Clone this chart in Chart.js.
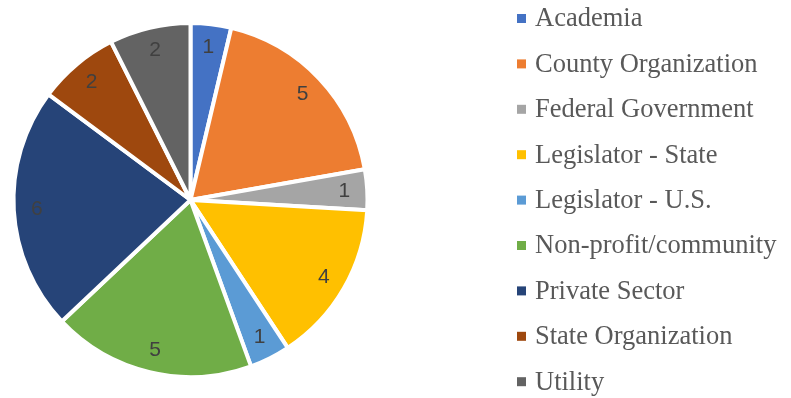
<!DOCTYPE html>
<html>
<head>
<meta charset="utf-8">
<script src="https://cdn.jsdelivr.net/npm/chart.js@4.4.1/dist/chart.umd.min.js"></script>
<style>
  html, body { margin: 0; padding: 0; background: #fff; }
  #wrap { width: 791px; height: 398px; }
</style>
</head>
<body>
<div id="wrap"><canvas id="sectores"></canvas></div>
<script>
const categorias = ['Academia', 'County Organization', 'Federal Government', 'Legislator - State',
  'Legislator - U.S.', 'Non-profit/community', 'Private Sector', 'State Organization', 'Utility'];
const cantidades = [1, 5, 1, 4, 1, 5, 6, 2, 2];
const colores = ['#4472C4', '#ED7D31', '#A5A5A5', '#FFC000', '#5B9BD5', '#70AD47', '#264478', '#9E480E', '#636363'];

// numbers drawn inside each slice, near the outer edge
const etiquetas = {
  id: 'etiquetas',
  afterDatasetsDraw(chart) {
    const ctx = chart.ctx;
    const arcs = chart.getDatasetMeta(0).data;
    ctx.save();
    ctx.font = '21px "Liberation Sans", Arial, sans-serif';
    ctx.fillStyle = '#404040';
    ctx.textAlign = 'center';
    ctx.textBaseline = 'middle';
    arcs.forEach((arc, i) => {
      const p = arc.getProps(['x', 'y', 'startAngle', 'endAngle', 'outerRadius'], true);
      const mid = (p.startAngle + p.endAngle) / 2;
      const r = p.outerRadius * 0.87;
      ctx.fillText(String(cantidades[i]), p.x + Math.cos(mid) * r, p.y + Math.sin(mid) * r);
    });
    ctx.restore();
  }
};

// legend column on the right
const leyenda = {
  id: 'leyenda',
  afterDraw(chart) {
    const ctx = chart.ctx;
    ctx.save();
    ctx.font = '26.5px "Liberation Serif", "Times New Roman", serif';
    ctx.textBaseline = 'middle';
    categorias.forEach((nombre, i) => {
      const y = 18.5 + i * 45.4;
      ctx.fillStyle = colores[i];
      ctx.fillRect(517, y - 4.5, 9, 9);
      ctx.fillStyle = '#595959';
      ctx.fillText(nombre, 535, y + 1);
    });
    ctx.restore();
  }
};

new Chart(document.getElementById('sectores'), {
  type: 'pie',
  data: {
    labels: categorias,
    datasets: [{
      data: cantidades,
      backgroundColor: colores,
      borderColor: '#ffffff',
      borderWidth: 4
    }]
  },
  options: {
    responsive: true,
    maintainAspectRatio: false,
    animation: false,
    layout: { padding: { left: 11, right: 421, top: 21, bottom: 19 } },
    plugins: {
      legend: { display: false },
      tooltip: { enabled: false }
    }
  },
  plugins: [etiquetas, leyenda]
});
</script>
</body>
</html>
